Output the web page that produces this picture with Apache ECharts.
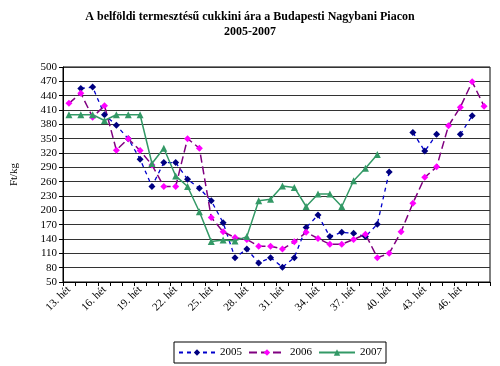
<!DOCTYPE html>
<html>
<head>
<meta charset="utf-8">
<script src="https://cdn.jsdelivr.net/npm/echarts@6/dist/echarts.min.js"></script>
<style>html,body{margin:0;padding:0;background:#fff;}#c{width:500px;height:366px;}</style>
</head>
<body>
<div id="c"></div>
<script>
const weeks = ['13. hét','14. hét','15. hét','16. hét','17. hét','18. hét','19. hét','20. hét','21. hét','22. hét','23. hét','24. hét','25. hét','26. hét','27. hét','28. hét','29. hét','30. hét','31. hét','32. hét','33. hét','34. hét','35. hét','36. hét','37. hét','38. hét','39. hét','40. hét','41. hét','42. hét','43. hét','44. hét','45. hét','46. hét','47. hét','48. hét'];
const s2005 = [null,455,458,400,378,350,307,250,300,300,265,246,220,174,101,119,90,101,81,101,164,190,145,154,152,145,171,280,null,363,324,359,null,359,398,null];
const s2006 = [424,445,395,419,326,350,325,295,250,250,350,330,185,155,143,139,125,125,119,134,154,141,129,129,139,150,101,110,155,215,269,291,377,416,469,418];
const s2007 = [400,400,400,388,400,400,400,298,330,272,250,197,135,138,136,145,220,223,251,248,208,234,234,208,262,288,317,null,null,null,null,null,null,null,null,null];
const yTicks = {min:50, max:500, interval:30};

const serif = '"Liberation Serif", "DejaVu Serif", serif';
const chart = echarts.init(document.getElementById('c'), null, {renderer:'canvas'});
chart.setOption({
  animation:false,
  backgroundColor:'#fff',
  title:{
    text:'A belföldi termesztésű cukkini ára a Budapesti Nagybani Piacon\n2005-2007',
    left:'center', top:4,
    textStyle:{fontFamily:serif, fontSize:12, fontWeight:'bold', color:'#000', lineHeight:15}
  },
  grid:{left:63, right:10, top:67, bottom:84, show:true, borderColor:'#000', borderWidth:1, backgroundColor:'transparent'},
  legend:{
    bottom:3, left:174,
    data:['2005','2006','2007'],
    borderColor:'#000', borderWidth:1, padding:[5,4,5,4],
    itemWidth:36, itemHeight:8, itemGap:6,
    textStyle:{fontFamily:serif, fontSize:11, color:'#000'}
  },
  xAxis:{
    type:'category', data:weeks, boundaryGap:true,
    axisLine:{lineStyle:{color:'#000'}},
    axisTick:{show:true, interval:0, length:4, lineStyle:{color:'#000'}},
    axisLabel:{interval:2, rotate:45, fontFamily:serif, fontSize:11, color:'#000', margin:6},
    splitLine:{show:false}
  },
  yAxis:{
    type:'value', min:yTicks.min, max:yTicks.max, interval:yTicks.interval,
    name:'Ft/kg', nameLocation:'middle', nameRotate:90, nameGap:43,
    nameTextStyle:{fontFamily:serif, fontSize:11, color:'#000'},
    axisLine:{show:true, lineStyle:{color:'#000'}},
    axisTick:{show:true, length:4, lineStyle:{color:'#000'}},
    axisLabel:{fontFamily:serif, fontSize:11, color:'#000', margin:6},
    splitLine:{show:true, lineStyle:{color:'#333', width:1}}
  },
  series:[
    {name:'2005', type:'line', data:s2005, symbol:'diamond', symbolSize:7,
     lineStyle:{color:'#0000cc', width:1.3, type:[4,4]},
     itemStyle:{color:'#000080'}},
    {name:'2006', type:'line', data:s2006, symbol:'diamond', symbolSize:7,
     lineStyle:{color:'#800080', width:1.5, type:[8,4]},
     itemStyle:{color:'#ff00ff'}},
    {name:'2007', type:'line', data:s2007, symbol:'triangle', symbolSize:7,
     lineStyle:{color:'#339966', width:1.5},
     itemStyle:{color:'#339966'}}
  ]
});
</script>
</body>
</html>
